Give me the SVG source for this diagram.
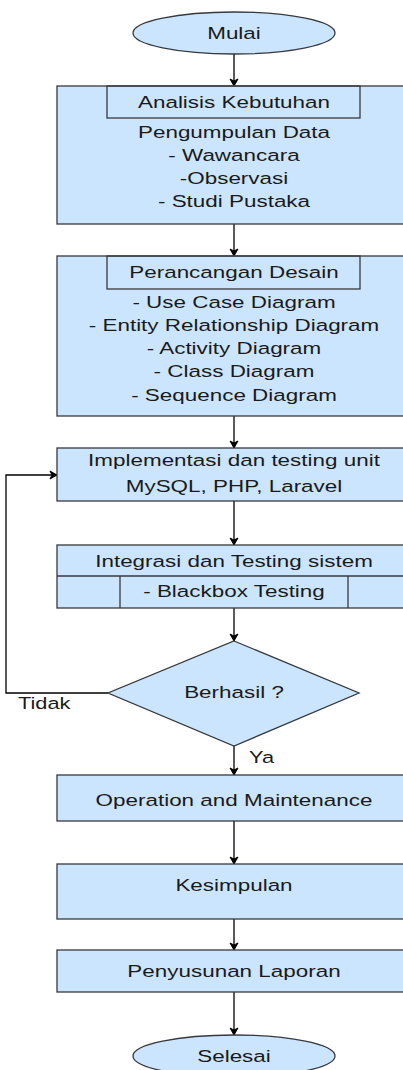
<svg xmlns="http://www.w3.org/2000/svg" width="403" height="1070" viewBox="0 0 403 1070">
<defs>
<style>
.n{fill:#cce5ff;stroke:#36393d;stroke-width:1.3}
.in{fill:none;stroke:#36393d;stroke-width:1.3}
.t{font-family:"Liberation Sans",Arial,sans-serif;font-size:16.5px;fill:#1a1a1a;text-anchor:middle}
.l{font-family:"Liberation Sans",Arial,sans-serif;font-size:16.5px;fill:#1a1a1a}
.c{fill:none;stroke:#000;stroke-width:1.3;marker-end:url(#ah)}
</style>
<marker id="ah" markerWidth="10" markerHeight="10" refX="8" refY="5" orient="auto" markerUnits="userSpaceOnUse">
<path d="M1,1 L8,5 L1,9 L3,5 Z" fill="#000" stroke="#000" stroke-width="1"/>
</marker>
</defs>
<rect width="403" height="1070" fill="#fff"/>

<g id="connectors">
<line class="c" x1="234" y1="54" x2="234" y2="86"/>
<line class="c" x1="234" y1="224" x2="234" y2="256"/>
<line class="c" x1="234" y1="416" x2="234" y2="448"/>
<line class="c" x1="234" y1="501" x2="234" y2="545"/>
<line class="c" x1="234" y1="608" x2="234" y2="641"/>
<polyline class="c" points="108,693 6,693 6,475 57,475"/>
<line class="c" x1="234" y1="746" x2="234" y2="775"/>
<line class="c" x1="234" y1="821" x2="234" y2="864"/>
<line class="c" x1="234" y1="919" x2="234" y2="950"/>
<line class="c" x1="234" y1="992" x2="234" y2="1035"/>
<text class="l" transform="translate(18,709) scale(1.32,1)">Tidak</text>
<text class="l" transform="translate(249,763) scale(1.32,1)">Ya</text>
</g>

<g id="mulai">
<ellipse class="n" cx="234" cy="33" rx="101" ry="21"/>
<text class="t" transform="translate(234,38.5) scale(1.36,1)">Mulai</text>
</g>

<g id="analisis">
<rect class="n" x="57" y="86" width="354" height="138"/>
<rect class="in" x="107" y="86" width="253" height="32"/>
<text class="t" transform="translate(234,108) scale(1.36,1)">Analisis Kebutuhan</text>
<text class="t" transform="translate(234,138) scale(1.36,1)">Pengumpulan Data</text>
<text class="t" transform="translate(234,161) scale(1.36,1)">- Wawancara</text>
<text class="t" transform="translate(234,183.5) scale(1.36,1)">-Observasi</text>
<text class="t" transform="translate(234,206.5) scale(1.36,1)">- Studi Pustaka</text>
</g>

<g id="perancangan">
<rect class="n" x="57" y="256" width="354" height="160"/>
<rect class="in" x="107" y="256" width="253" height="33"/>
<text class="t" transform="translate(234,278) scale(1.36,1)">Perancangan Desain</text>
<text class="t" transform="translate(234,307.5) scale(1.36,1)">- Use Case Diagram</text>
<text class="t" transform="translate(234,330.5) scale(1.36,1)">- Entity Relationship Diagram</text>
<text class="t" transform="translate(234,354) scale(1.36,1)">- Activity Diagram</text>
<text class="t" transform="translate(234,376.5) scale(1.36,1)">- Class Diagram</text>
<text class="t" transform="translate(234,400.5) scale(1.36,1)">- Sequence Diagram</text>
</g>

<g id="implementasi">
<rect class="n" x="57" y="448" width="354" height="53"/>
<text class="t" transform="translate(234,466) scale(1.36,1)">Implementasi dan testing unit</text>
<text class="t" transform="translate(234,491.5) scale(1.36,1)">MySQL, PHP, Laravel</text>
</g>

<g id="integrasi">
<rect class="n" x="57" y="545" width="354" height="63"/>
<line class="in" x1="57" y1="576" x2="411" y2="576"/>
<line class="in" x1="120" y1="576" x2="120" y2="608"/>
<line class="in" x1="348" y1="576" x2="348" y2="608"/>
<text class="t" transform="translate(234,566.5) scale(1.36,1)">Integrasi dan Testing sistem</text>
<text class="t" transform="translate(234,596.5) scale(1.36,1)">- Blackbox Testing</text>
</g>

<g id="berhasil">
<polygon class="n" points="234,641 359,693 234,746 108,693"/>
<text class="t" transform="translate(234,698) scale(1.36,1)">Berhasil ?</text>
</g>

<g id="operation">
<rect class="n" x="57" y="775" width="354" height="46"/>
<text class="t" transform="translate(234,805.5) scale(1.36,1)">Operation and Maintenance</text>
</g>

<g id="kesimpulan">
<rect class="n" x="57" y="864" width="354" height="55"/>
<text class="t" transform="translate(234,891) scale(1.36,1)">Kesimpulan</text>
</g>

<g id="penyusunan">
<rect class="n" x="57" y="950" width="354" height="42"/>
<text class="t" transform="translate(234,976.5) scale(1.36,1)">Penyusunan Laporan</text>
</g>

<g id="selesai">
<ellipse class="n" cx="234" cy="1056" rx="101" ry="21"/>
<text class="t" transform="translate(234,1061.5) scale(1.36,1)">Selesai</text>
</g>
</svg>
